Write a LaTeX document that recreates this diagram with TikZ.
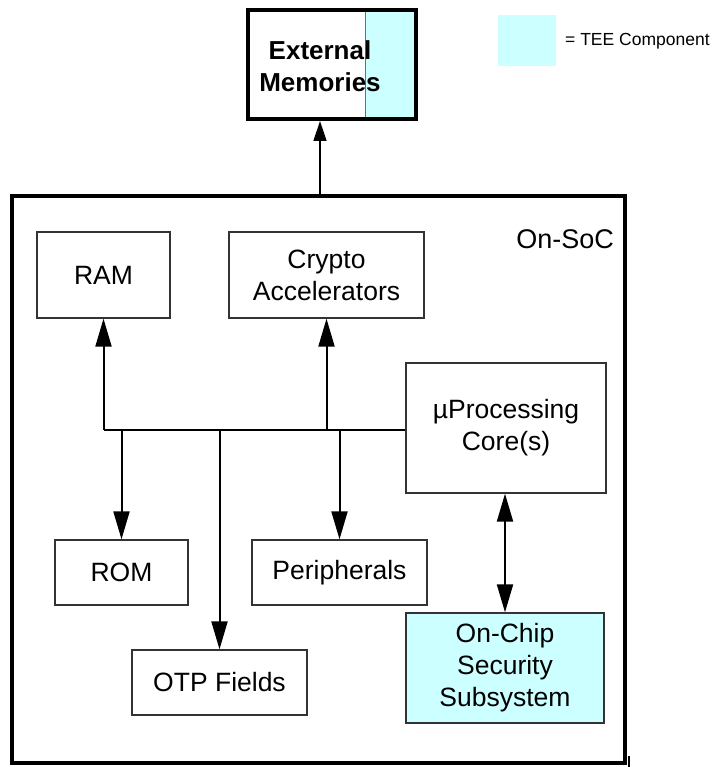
\documentclass[tikz,border=0pt]{standalone}
\usepackage{fontspec}
\setmainfont{Liberation Sans}
\usetikzlibrary{arrows.meta,calc}
\definecolor{tee}{HTML}{CCFFFF}
\definecolor{edge}{HTML}{333333}
\begin{document}
\begin{tikzpicture}[x=1pt,y=-1pt,
  box/.style={draw=edge,line width=1.3pt,rectangle,inner sep=0pt,align=center,
    font=\fontsize{26.5}{32}\selectfont},
  tip/.style={Triangle[length=28pt,width=16pt]},
  arr/.style={line width=2pt,-{Triangle[length=28pt,width=16pt]}},
  darr/.style={line width=2pt,{Triangle[length=28pt,width=16pt]}-{Triangle[length=28pt,width=16pt]}},
  bus/.style={line width=2pt}]
\useasboundingbox (0,0) rectangle (715,767);
% External memories
\fill[tee] (365,10) rectangle (416,119);
\draw[edge!70,line width=1pt] (365,10) -- (365,119);
\node[draw=black,line width=4pt,minimum width=168pt,minimum height=109pt,inner sep=0pt] (ext) at (332,64.5) {};
\node[align=center,inner sep=0pt,font=\fontsize{26}{32}\selectfont\bfseries] (extt) at (320,66) {External\\Memories};
% legend
\node[fill=tee,minimum width=58pt,minimum height=51pt,inner sep=0pt] (leg) at (527,40.5) {};
\node[anchor=west,inner sep=0pt,font=\fontsize{17.5}{20}\selectfont] (legt) at (565,41) {= TEE Component};
% SoC
\node[draw=black,line width=4pt,minimum width=613pt,minimum height=567pt,inner sep=0pt] (soc) at (318.5,479.5) {};
\node[anchor=east,inner sep=0pt,font=\fontsize{27}{32}\selectfont] (soclbl) at (614,239) {On-SoC};
\draw[line width=1.5pt,-{Triangle[length=20pt,width=13pt]}] (soc.north -| 320,0) -- (ext.south -| 320,0);
% boxes
\node[box,minimum width=133pt,minimum height=86pt] (ram) at (103.5,275) {RAM};
\node[box,minimum width=195pt,minimum height=86pt] (crypto) at (326.5,275) {Crypto\\Accelerators};
\node[box,minimum width=200pt,minimum height=130pt] (cpu) at (506,428) {µProcessing\\Core(s)};
\node[box,minimum width=133pt,minimum height=65pt] (rom) at (121.5,572.5) {ROM};
\node[box,minimum width=175pt,minimum height=65pt] (periph) at (339.5,572.5) {Peripherals};
\node[box,minimum width=175pt,minimum height=65pt] (otp) at (219.5,682.5) {OTP Fields};
\node[box,fill=tee,minimum width=198pt,minimum height=110pt] (sec) at (505,668) {On-Chip\\Security\\Subsystem};
% bus
\coordinate (busR) at (cpu.west |- 0,430);
\coordinate (busL) at (ram.south |- busR);
\draw[bus] (busR) -- (busL);
\draw[arr] (busL) -- (ram.south);
\draw[arr] (crypto.south |- busR) -- (crypto.south);
\draw[arr] (rom.north |- busR) -- (rom.north);
\draw[arr] (otp.north |- busR) -- (otp.north);
\draw[arr] (periph.north |- busR) -- (periph.north);
\draw[darr] (cpu.south -| sec.north) -- (sec.north);
% small tick
\coordinate (tickA) at (629,756);
\coordinate (tickB) at (629,767);
\draw[line width=2pt] (tickA) -- (tickB);
\end{tikzpicture}
\end{document}
